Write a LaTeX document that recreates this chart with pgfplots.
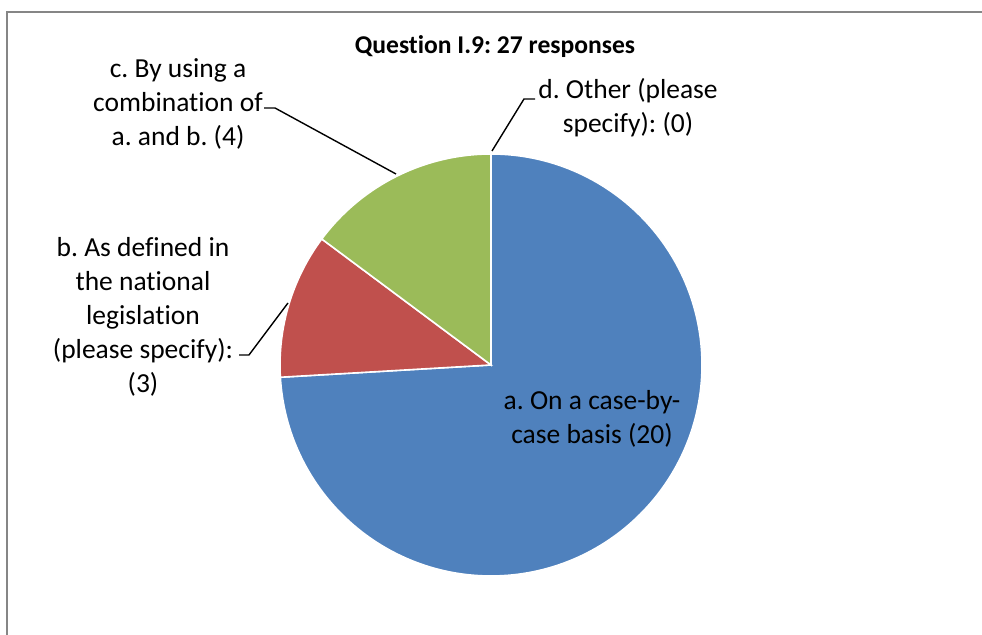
\documentclass[border=0pt]{standalone}
\usepackage{pgfplots}
\pgfplotsset{compat=1.18}
\usepackage{pgfplotstable}
\usepackage{fontspec}
\setmainfont{Carlito}[Ligatures={NoCommon}]
\frenchspacing

\definecolor{pieblue}{HTML}{4F81BD}
\definecolor{piered}{HTML}{C0504D}
\definecolor{piegreen}{HTML}{9BBB59}
\definecolor{frame}{HTML}{868686}

% responses per answer
\pgfplotstableread{
slice value
a 20
b 3
c 4
d 0
}\piedata

\begin{document}
\begin{tikzpicture}[lbl/.style={font=\fontsize{13.75}{17}\selectfont, align=center}]
  \pgfplotstablegetelem{0}{value}\of\piedata \let\va\pgfplotsretval
  \pgfplotstablegetelem{1}{value}\of\piedata \let\vb\pgfplotsretval
  \pgfplotstablegetelem{2}{value}\of\piedata \let\vc\pgfplotsretval
  \pgfplotstablegetelem{3}{value}\of\piedata \let\vd\pgfplotsretval
  \pgfmathsetmacro{\total}{\va+\vb+\vc+\vd}
  \pgfmathsetmacro{\angA}{90-360*\va/\total}
  \pgfmathsetmacro{\angB}{\angA-360*\vb/\total}
  \pgfmathsetmacro{\angC}{\angB-360*\vc/\total}
  \def\R{105.5pt}
  \begin{axis}[
      scale only axis,
      width=491pt, height=317.5pt,
      xmin=0, xmax=982, ymin=0, ymax=635,
      hide axis,
      clip=false,
    ]
    % chart frame (top and left edges visible)
    \draw[frame, line width=1pt] (axis cs:7,0) -- (axis cs:7,623) -- (axis cs:982,623);

    % wedges
    \fill[pieblue, draw=white, line width=0.8pt] (axis cs:491,270) -- ++(90:\R)
      arc[start angle=90, end angle=\angA, radius=\R] -- cycle;
    \fill[piered, draw=white, line width=0.8pt] (axis cs:491,270) -- ++(\angA:\R)
      arc[start angle=\angA, end angle=\angB, radius=\R] -- cycle;
    \fill[piegreen, draw=white, line width=0.8pt] (axis cs:491,270) -- ++(\angB:\R)
      arc[start angle=\angB, end angle=\angC, radius=\R] -- cycle;

    % title
    \node[font=\fontsize{12.8}{15}\selectfont\bfseries] at (axis cs:495,588) {Question I.9: 27 responses};

    % labels
    \node[lbl] at (axis cs:592,216) {a. On a case-by-\\case basis (20)};
    \node[lbl] at (axis cs:143,318) {b. As defined in\\the national\\legislation\\(please specify):\\(3)};
    \node[lbl] at (axis cs:178,531) {c. By using a\\combination of\\a. and b. (4)};
    \node[lbl] at (axis cs:628,527) {d. Other (please\\specify): (0)};

    % leader lines
    \draw[line width=0.7pt] (axis cs:264,527) -- (axis cs:275,527) -- (axis cs:396,461);
    \draw[line width=0.7pt] (axis cs:535,536) -- (axis cs:524,536) -- (axis cs:492,484);
    \draw[line width=0.7pt] (axis cs:239,280) -- (axis cs:249,280) -- (axis cs:288,332);
  \end{axis}
  \pgfresetboundingbox
  \path (current axis.south west) rectangle (current axis.north east);
\end{tikzpicture}
\end{document}
